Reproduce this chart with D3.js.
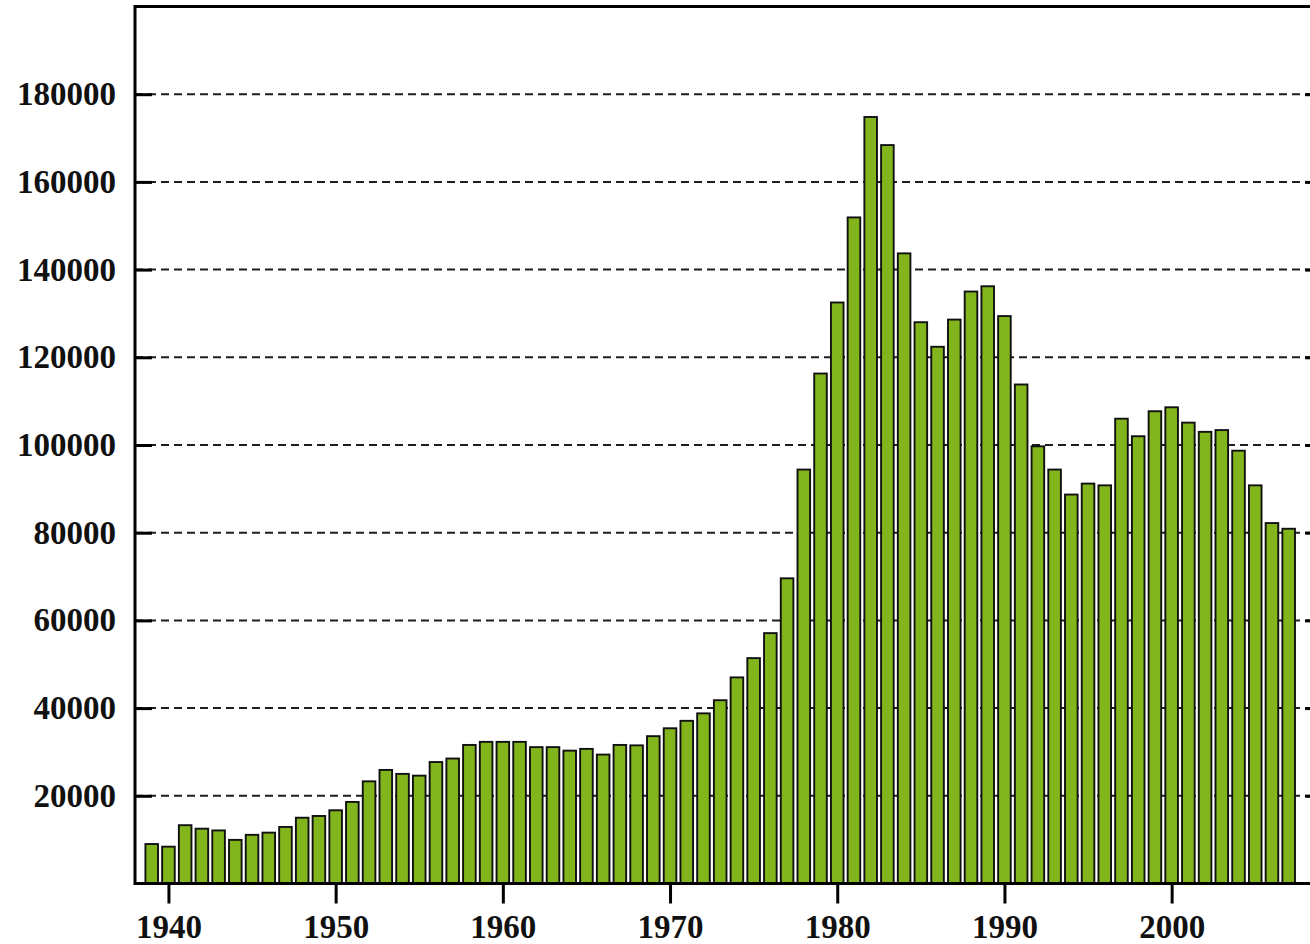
<!DOCTYPE html>
<html>
<head>
<meta charset="utf-8">
<script src="https://cdn.jsdelivr.net/npm/d3@7"></script>
<style>
  html, body { margin: 0; padding: 0; background: #fff; }
  svg { display: block; }
</style>
</head>
<body>
<svg id="chart" width="1310" height="944"></svg>
<script>
const years = d3.range(1939, 2008);
const values = [
  9000, 8400, 13300, 12500, 12100, 9950, 11100, 11600, 12900, 15000,
  15400, 16700, 18600, 23300, 25900, 25000, 24600, 27700, 28500, 31600,
  32300, 32300, 32300, 31100, 31100, 30300, 30700, 29400, 31600, 31500,
  33600, 35400, 37100, 38800, 41800, 47000, 51400, 57100, 69600, 94400,
  116300, 132500, 151900, 174800, 168400, 143700, 128000, 122400, 128600, 135000,
  136200, 129400, 113800, 99700, 94400, 88700, 91200, 90800, 106000, 102000,
  107700, 108600, 105100, 103000, 103400, 98700, 90800, 82200, 80900
];
const yTicks = [20000, 40000, 60000, 80000, 100000, 120000, 140000, 160000, 180000];
const xTicks = [1940, 1950, 1960, 1970, 1980, 1990, 2000];

const svg = d3.select("#chart");
const step = 16.72;
const x = d3.scaleLinear().domain([1938, 2009]).range([135, 135 + 71 * step]);
const y = d3.scaleLinear().domain([0, 200000]).range([883.5, 6.5]);

const x0 = x(1938), x1 = x(2009);
const fontFam = "'Liberation Serif', 'Times New Roman', serif";

// gridlines
svg.append("g").selectAll("line").data(yTicks).join("line")
  .attr("x1", x0).attr("x2", x1)
  .attr("y1", d => y(d)).attr("y2", d => y(d))
  .attr("stroke", "#1e1e1e").attr("stroke-width", 2)
  .attr("stroke-dasharray", "8,5");

// bars
const bw = 12.6;
svg.append("g").selectAll("rect").data(years).join("rect")
  .attr("x", (d) => x(d) - bw / 2)
  .attr("width", bw)
  .attr("y", (d, i) => y(values[i]))
  .attr("height", (d, i) => y(0) - y(values[i]))
  .attr("fill", "#82b51b")
  .attr("stroke", "#111")
  .attr("stroke-width", 1.9);

// left axis
const leftAxis = d3.axisLeft(y).tickValues(yTicks).tickSize(-17).tickFormat(d3.format("d"));
const gl = svg.append("g").attr("transform", `translate(${x0},0)`).call(leftAxis);
gl.select(".domain").remove();
gl.selectAll(".tick line").attr("stroke", "#000").attr("stroke-width", 3);
gl.selectAll(".tick text")
  .attr("font-family", fontFam)
  .attr("font-weight", "bold").attr("font-size", 33).attr("fill", "#111")
  .attr("x", -19);

// right axis (ticks inward)
const rightAxis = d3.axisRight(y).tickValues(yTicks).tickSize(-17).tickFormat("");
const gr = svg.append("g").attr("transform", `translate(${x1},0)`).call(rightAxis);
gr.select(".domain").remove();
gr.selectAll(".tick line").attr("stroke", "#000").attr("stroke-width", 3);

// bottom axis
const bottomAxis = d3.axisBottom(x).tickValues(xTicks).tickSize(20).tickFormat(d3.format("d")).tickPadding(11);
const gb = svg.append("g").attr("transform", `translate(0,${y(0)})`).call(bottomAxis);
gb.select(".domain").remove();
gb.selectAll(".tick line").attr("stroke", "#000").attr("stroke-width", 3);
gb.selectAll(".tick text")
  .attr("font-family", fontFam)
  .attr("font-weight", "bold").attr("font-size", 33).attr("fill", "#111");

// frame
const frame = svg.append("g").attr("fill", "none").attr("stroke", "#000").attr("stroke-width", 3);
frame.append("line").attr("x1", x0).attr("x2", x1).attr("y1", y(0)).attr("y2", y(0));
frame.append("line").attr("x1", x0).attr("x2", x1).attr("y1", y(200000)).attr("y2", y(200000));
frame.append("line").attr("x1", x0).attr("x2", x0).attr("y1", y(200000) - 1.5).attr("y2", y(0) + 1.5);
frame.append("line").attr("x1", x1).attr("x2", x1).attr("y1", y(200000) - 1.5).attr("y2", y(0) + 1.5);
</script>
</body>
</html>
